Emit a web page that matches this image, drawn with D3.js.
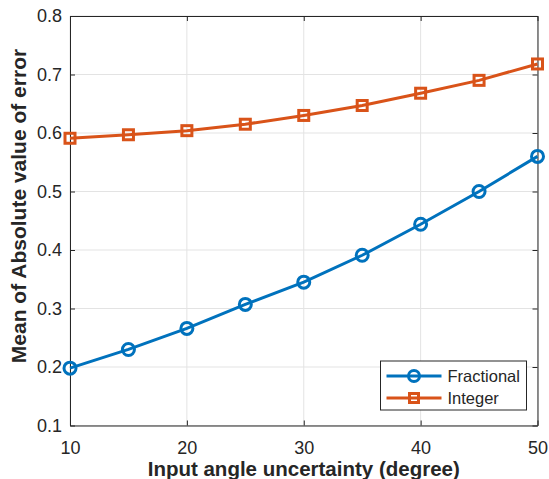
<!DOCTYPE html>
<html>
<head>
<meta charset="utf-8">
<script src="https://cdn.jsdelivr.net/npm/d3@7"></script>
<style>
  body { margin: 0; background: #fff; }
  svg text { font-family: "Liberation Sans", Arial, sans-serif; fill: #262626; }
</style>
</head>
<body>
<div id="chart"></div>
<script>
// data
var angles = [10, 15, 20, 25, 30, 35, 40, 45, 50];
var fractional = [0.198, 0.230, 0.266, 0.307, 0.345, 0.391, 0.444, 0.500, 0.560];
var integer = [0.591, 0.597, 0.604, 0.615, 0.630, 0.647, 0.668, 0.690, 0.718];
var xTicks = [10, 20, 30, 40, 50];
var yTicks = [0.1, 0.2, 0.3, 0.4, 0.5, 0.6, 0.7, 0.8];
var seriesNames = ['Fractional', 'Integer'];
var seriesColors = ['#0072BD', '#D95319'];

var width = 549, height = 479;
var margin = {top: 16, right: 11.5, bottom: 53.5, left: 70};
var w = width - margin.left - margin.right;
var h = height - margin.top - margin.bottom;

var svg = d3.select('#chart').append('svg')
  .attr('width', width).attr('height', height);
var g = svg.append('g')
  .attr('transform', 'translate(' + margin.left + ',' + margin.top + ')');

var x = d3.scaleLinear().domain([10, 50]).range([0, w]);
var y = d3.scaleLinear().domain([0.1, 0.8]).range([h, 0]);

// grid
g.append('g').selectAll('line').data(xTicks).enter().append('line')
  .attr('x1', d => x(d)).attr('x2', d => x(d))
  .attr('y1', 0).attr('y2', h)
  .attr('stroke', '#e3e3e3').attr('stroke-width', 1);
g.append('g').selectAll('line').data(yTicks).enter().append('line')
  .attr('y1', d => y(d)).attr('y2', d => y(d))
  .attr('x1', 0).attr('x2', w)
  .attr('stroke', '#e3e3e3').attr('stroke-width', 1);

// axes (matlab style: ticks inside, box on)
var tickLen = 5;
var xAxis = g.append('g').attr('transform', 'translate(0,' + h + ')')
  .call(d3.axisBottom(x).tickValues(xTicks).tickSizeInner(-tickLen).tickSizeOuter(0).tickPadding(16));
var yAxis = g.append('g')
  .call(d3.axisLeft(y).tickValues(yTicks).tickFormat(d3.format('.1f')).tickSizeInner(-tickLen).tickSizeOuter(0).tickPadding(8));
var xTop = g.append('g')
  .call(d3.axisTop(x).tickValues(xTicks).tickSizeInner(-tickLen).tickSizeOuter(0).tickFormat(''));
var yRight = g.append('g').attr('transform', 'translate(' + w + ',0)')
  .call(d3.axisRight(y).tickValues(yTicks).tickSizeInner(-tickLen).tickSizeOuter(0).tickFormat(''));

[xAxis, yAxis, xTop, yRight].forEach(function(a) {
  a.select('.domain').attr('stroke', '#262626').attr('stroke-width', 1);
  a.selectAll('.tick line').attr('stroke', '#262626');
  a.selectAll('.tick text').attr('font-size', 18).attr('fill', '#262626')
    .attr('font-family', '"Liberation Sans", Arial, sans-serif');
});

// lines + markers
var line = d3.line().x(d => x(d[0])).y(d => y(d[1]));
var series = [fractional, integer];

series.forEach(function(vals, i) {
  var pts = angles.map((a, j) => [a, vals[j]]);
  g.append('path').datum(pts)
    .attr('fill', 'none')
    .attr('stroke', seriesColors[i])
    .attr('stroke-width', 3)
    .attr('d', line);
  var m = g.append('g').selectAll('.m').data(pts).enter();
  if (i === 0) {
    m.append('circle')
      .attr('cx', d => x(d[0])).attr('cy', d => y(d[1]))
      .attr('r', 6)
      .attr('fill', 'none')
      .attr('stroke', seriesColors[i]).attr('stroke-width', 3);
  } else {
    m.append('rect')
      .attr('x', d => x(d[0]) - 5).attr('y', d => y(d[1]) - 5)
      .attr('width', 10).attr('height', 10)
      .attr('fill', 'none')
      .attr('stroke', seriesColors[i]).attr('stroke-width', 3);
  }
});

// legend
var lg = svg.append('g').attr('transform', 'translate(380.5,361)');
lg.append('rect').attr('width', 146).attr('height', 49)
  .attr('fill', '#fff').attr('stroke', '#262626').attr('stroke-width', 1);
seriesNames.forEach(function(name, i) {
  var ly = 15 + i * 22;
  lg.append('line').attr('x1', 6).attr('x2', 61).attr('y1', ly).attr('y2', ly)
    .attr('stroke', seriesColors[i]).attr('stroke-width', 3);
  if (i === 0) {
    lg.append('circle').attr('cx', 33.5).attr('cy', ly).attr('r', 5.5)
      .attr('fill', 'none').attr('stroke', seriesColors[i]).attr('stroke-width', 3);
  } else {
    lg.append('rect').attr('x', 29).attr('y', ly - 4.5).attr('width', 9).attr('height', 9)
      .attr('fill', 'none').attr('stroke', seriesColors[i]).attr('stroke-width', 3);
  }
  lg.append('text').attr('x', 67).attr('y', ly).attr('dy', '0.35em')
    .attr('font-size', 16.5).text(name);
});

// axis titles
svg.append('text')
  .attr('x', margin.left + w / 2).attr('y', 476)
  .attr('text-anchor', 'middle').attr('font-weight', 'bold').attr('font-size', 20.5)
  .text('Input angle uncertainty (degree)');
svg.append('text')
  .attr('transform', 'translate(26,206) rotate(-90)')
  .attr('text-anchor', 'middle').attr('font-weight', 'bold').attr('font-size', 21)
  .text('Mean of Absolute value of error');
</script>
</body>
</html>
